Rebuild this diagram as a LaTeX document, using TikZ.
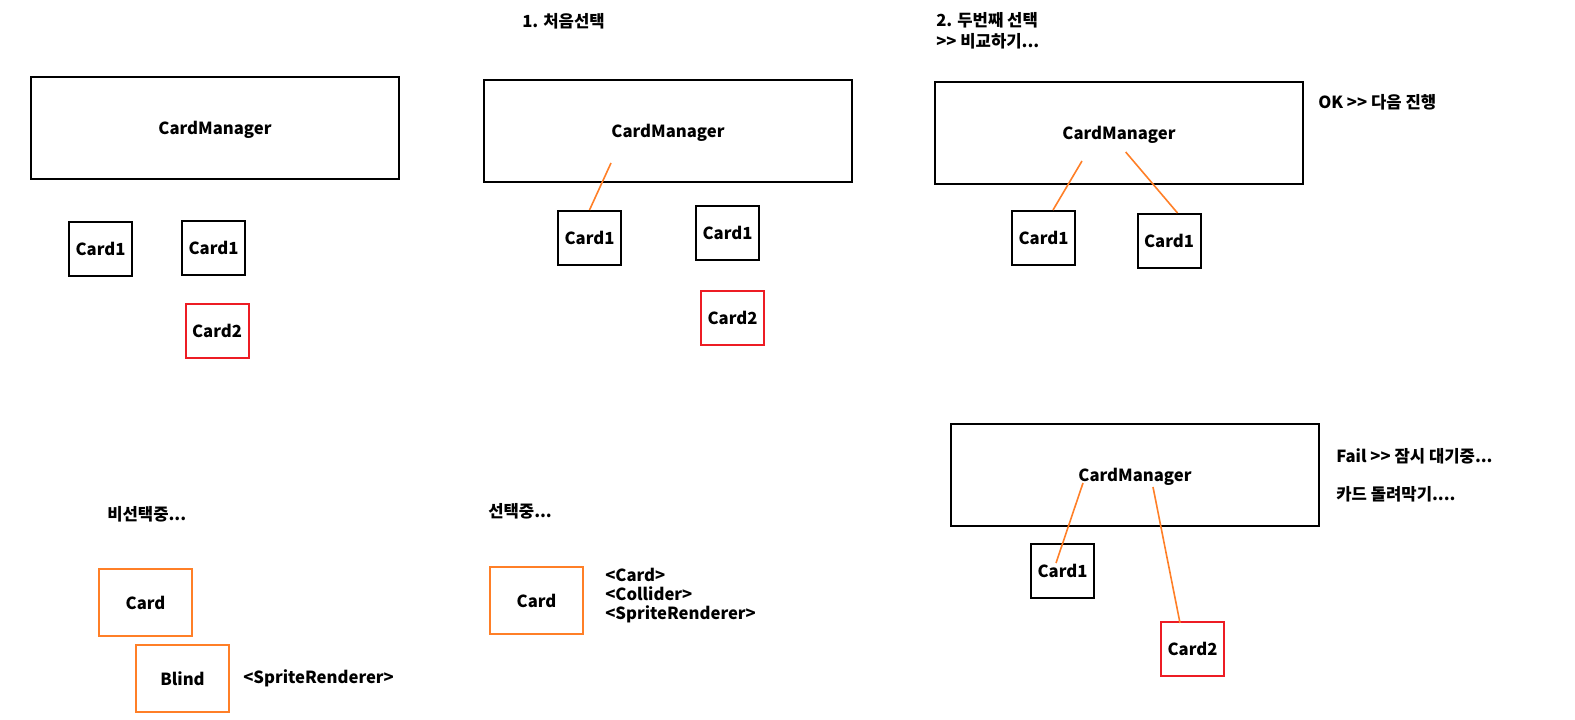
\documentclass[tikz,border=0pt]{standalone}
\usepackage{fontspec}
\setmainfont{Noto Sans CJK KR}
\usetikzlibrary{positioning}
\usetikzlibrary{calc}
\definecolor{paintred}{HTML}{ED1C24}
\definecolor{paintorange}{HTML}{FF7F27}
\newcommand{\gtgt}{>\kern0pt>}
\tikzset{
  mgr box/.style={draw, line width=1.5pt, minimum width=276pt, minimum height=76.5pt, inner sep=0pt, text depth=0pt},
  card box/.style={draw, line width=1.5pt, minimum width=47.25pt, minimum height=40.5pt, inner sep=0pt},
  red card box/.style={card box, draw=paintred},
  orange box/.style={draw=paintorange, line width=1.5pt, minimum width=69.75pt, minimum height=50.25pt, inner sep=0pt},
  note/.style={anchor=west, inner sep=0pt, align=left},
  link edge/.style={draw=paintorange, line width=1.2pt},
}

\begin{document}
\begin{tikzpicture}[x=0.75pt, y=-0.75pt, font=\bfseries\fontsize{12.5}{15}\selectfont]

  \useasboundingbox (0,0) rectangle (1575,720);

  % Define nodes
  \node[mgr box] (mgr1) at (215,128) {CardManager};
  \node[card box] (c1a) at (100.5,249) {Card1};
  \node[card box] (c1b) at (213.5,248) {Card1};
  \node[red card box] (c1c) at (217,331) {Card2};

  \node[note] (title2) at (522,21) {1. 처음선택};
  \node[mgr box] (mgr2) at (668,131) {CardManager};
  \node[card box] (c2a) at (589.5,238) {Card1};
  \node[card box] (c2b) at (727.5,233) {Card1};
  \node[red card box] (c2c) at (732.5,318) {Card2};

  \node[note, font=\bfseries\fontsize{12.5}{15.75}\selectfont] (title3) at (936,30.5) {2. 두번째 선택\\\gtgt{} 비교하기...};
  \node[mgr box] (mgr3) at (1119,133) {CardManager};
  \node[card box] (c3a) at (1043.5,238) {Card1};
  \node[card box] (c3b) at (1169,241) {Card1};
  \node[note] (ok) at (1318,102) {OK \gtgt{} 다음 진행};

  \node[mgr box] (mgr4) at (1135,475) {CardManager};
  \node[card box] (c4a) at (1062.5,571) {Card1};
  \node[red card box] (c4b) at (1192.5,649) {Card2};
  \node[note] (fail) at (1336,456) {Fail \gtgt{} 잠시 대기중...};
  \node[note] (swap) at (1336,494) {카드 돌려막기....};

  \node[note] (idle) at (107,514) {비선택중...};
  \node[orange box] (card5) at (145.5,602.5) {Card};
  \node[orange box] (blind) at (182.5,678.5) {Blind};
  \node[note, right=9.75pt of blind] (blind_sr) {<SpriteRenderer>};

  \node[note] (busy) at (488,511) {선택중...};
  \node[orange box] (card6) at (536.5,600.5) {Card};
  \node[note, font=\bfseries\fontsize{12.5}{14.25}\selectfont] (comps) at (605,596) {<Card>\\<Collider>\\<SpriteRenderer>};

  % Connect nodes
  \coordinate (m2a) at ($(mgr2)+(-57,32)$);
  \draw[link edge] (m2a) -- (c2a.north);

  \coordinate (m3a) at ($(mgr3)+(-37,28)$);
  \coordinate (m3b) at ($(mgr3)+(6.7,19)$);
  \draw[link edge] (m3a) -- ($(c3a.north)+(9.5,0)$);
  \draw[link edge] (m3b) -- ($(c3b.north)+(8.5,0)$);

  \coordinate (m4a) at ($(mgr4)+(-52,8)$);
  \coordinate (m4b) at ($(mgr4)+(18,12)$);
  \draw[link edge] (m4a) -- ($(c4a)+(-6.5,-8)$);
  \draw[link edge] (m4b) -- ($(c4b.north)+(-12.5,2)$);

\end{tikzpicture}
\end{document}
